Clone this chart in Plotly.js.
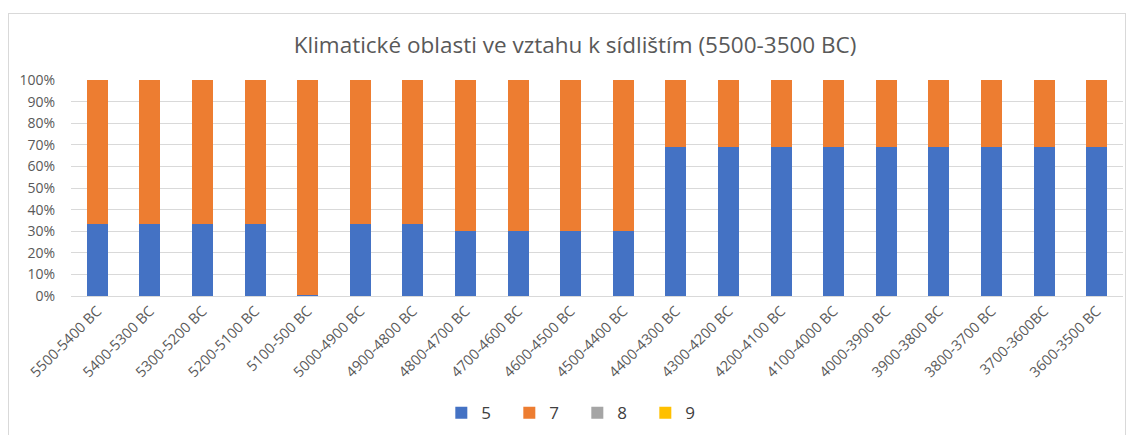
<!DOCTYPE html>
<html>
<head>
<meta charset="utf-8">
<script src="https://cdn.plot.ly/plotly-3.0.1.min.js"></script>
<style>
html,body{margin:0;padding:0;background:#fff;}
#frame{position:absolute;left:8px;top:13px;width:1118px;height:430px;border:1px solid #d9d9d9;box-sizing:border-box;}
#chart{position:absolute;left:0;top:0;width:1132px;height:435px;}
</style>
</head>
<body>
<div id="frame"></div>
<div id="chart"></div>
<script>
const categories = ["5500-5400 BC","5400-5300 BC","5300-5200 BC","5200-5100 BC","5100-500 BC","5000-4900 BC","4900-4800 BC","4800-4700 BC","4700-4600 BC","4600-4500 BC","4500-4400 BC","4400-4300 BC","4300-4200 BC","4200-4100 BC","4100-4000 BC","4000-3900 BC","3900-3800 BC","3800-3700 BC","3700-3600BC","3600-3500 BC"];
const series5 = [33.3,33.3,33.3,33.3,0.5,33.3,33.3,30,30,30,30,69.2,69.2,69.2,69.2,69.2,69.2,69.2,69.2,69.2];
const series7 = [66.7,66.7,66.7,66.7,99.5,66.7,66.7,70,70,70,70,30.8,30.8,30.8,30.8,30.8,30.8,30.8,30.8,30.8];
const series8 = [0,0,0,0,0,0,0,0,0,0,0,0,0,0,0,0,0,0,0,0];
const series9 = [0,0,0,0,0,0,0,0,0,0,0,0,0,0,0,0,0,0,0,0];
const seriesNames = ["5","7","8","9"];
const colors = ["#4472C4","#ED7D31","#A5A5A5","#FFC000"];

const allSeries = [series5, series7, series8, series9];
const traces = allSeries.map((vals, i) => ({
  type: 'bar',
  name: seriesNames[i],
  x: categories,
  y: vals,
  marker: {color: colors[i]},
  hoverinfo: 'x+y+name'
}));

const font = "'Open Sans', 'Liberation Sans', sans-serif";
const layout = {
  width: 1132,
  height: 435,
  barmode: 'stack',
  bargap: 0.6,
  paper_bgcolor: 'rgba(0,0,0,0)',
  plot_bgcolor: 'rgba(0,0,0,0)',
  margin: {l: 71, r: 9, t: 80, b: 139},
  title: {
    text: 'Klimatické oblasti ve vztahu k sídlištím (5500-3500 BC)',
    font: {family: font, size: 22.5, color: '#595959'},
    x: 0.508, xanchor: 'center', y: 0.897, yanchor: 'middle'
  },
  font: {family: font, color: '#595959'},
  xaxis: {
    type: 'category',
    tickangle: -45,
    tickfont: {size: 14.5, color: '#595959'},
    showgrid: false,
    showline: true,
    linecolor: '#d9d9d9',
    linewidth: 1,
    ticks: '',
    automargin: false
  },
  yaxis: {
    range: [0, 100],
    dtick: 10,
    ticksuffix: '%',
    tickfont: {size: 14, color: '#595959'},
    gridcolor: '#d9d9d9',
    gridwidth: 1,
    zeroline: false,
    showline: false,
    ticks: '',
    ticklabelstandoff: 15,
    automargin: false
  },
  showlegend: true,
  legend: {
    orientation: 'h',
    xref: 'container', yref: 'container',
    x: 0.51, xanchor: 'center',
    y: 0.05, yanchor: 'middle',
    font: {size: 17, color: '#404040'},
    traceorder: 'normal',
    itemwidth: 30,
    entrywidth: 23,
    entrywidthmode: 'pixels'
  }
};

Plotly.newPlot('chart', traces, layout, {displayModeBar: false});
</script>
</body>
</html>
